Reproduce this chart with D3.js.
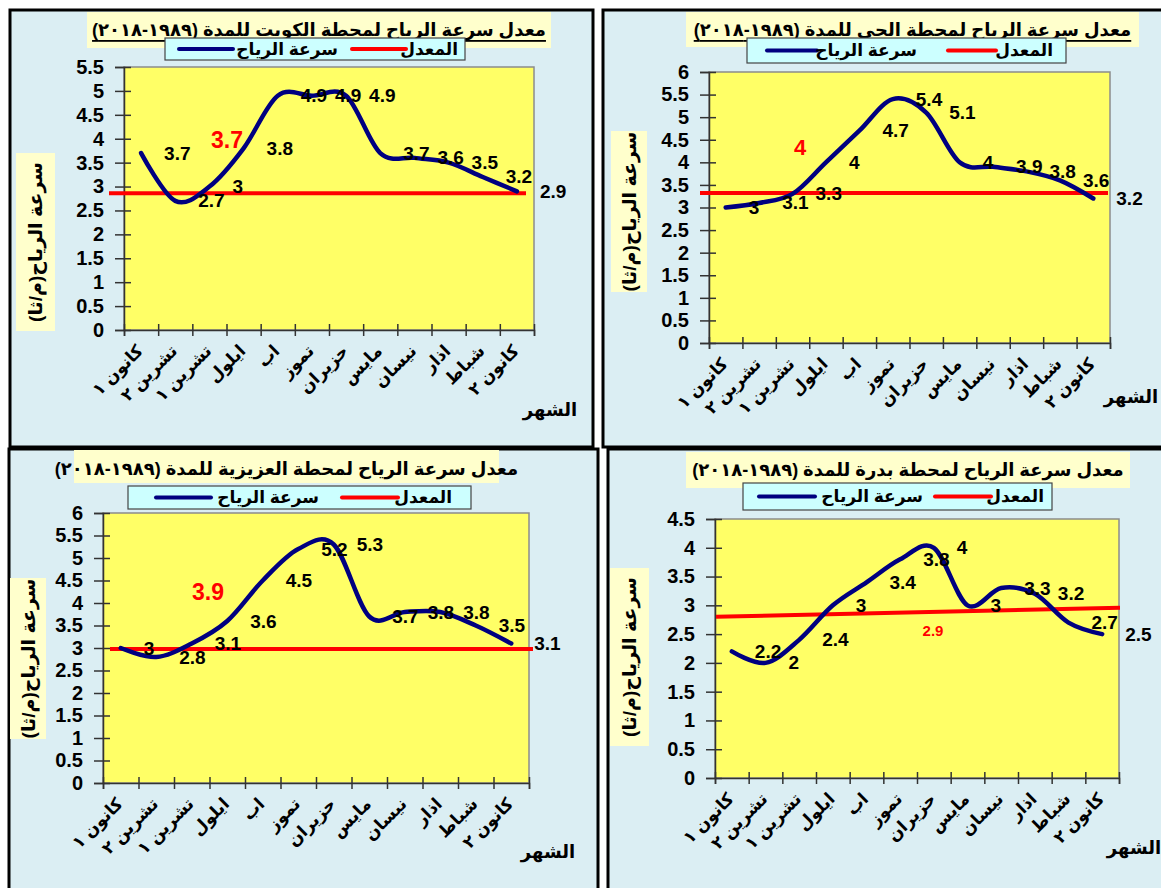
<!DOCTYPE html>
<html><head><meta charset="utf-8">
<script src="https://cdn.jsdelivr.net/npm/d3@7/dist/d3.min.js"></script>
<style>
body{margin:0;background:#fff;}
svg{display:block;font-family:Arial,"Liberation Sans","DejaVu Sans",sans-serif;font-weight:bold;}
</style></head><body>
<svg id="c" width="1161" height="888"></svg>
<script>
// ---------- DATA ----------
const months = ["كانون ١","تشرين ٢","تشرين ١","ايلول","اب","تموز","حزيران","مايس","نيسان","اذار","شباط","كانون ٢"];
const kuwait  = [3.7, 2.7, 3.0, 3.8, 4.9, 4.9, 4.9, 3.7, 3.6, 3.5, 3.2, 2.9];
const hay     = [3.0, 3.1, 3.3, 4.0, 4.7, 5.4, 5.1, 4.0, 3.9, 3.8, 3.6, 3.2];
const aziziya = [3.0, 2.8, 3.1, 3.6, 4.5, 5.2, 5.3, 3.7, 3.8, 3.8, 3.5, 3.1];
const badra   = [2.2, 2.0, 2.4, 3.0, 3.4, 3.8, 4.0, 3.0, 3.3, 3.2, 2.7, 2.5];
// average (red) line: value at start and end
const kuwaitAvg  = [2.86, 2.86];
const hayAvg     = [3.32, 3.32];
const aziziyaAvg = [2.98, 2.98];
const badraAvg   = [2.80, 2.96];
const avgLabels = ["3.7", "4", "3.9", "2.9"];
const yMaxes = [5.5, 6, 6, 4.5];
const titles = [
  "معدل سرعة الرياح لمحطة الكويت  للمدة (١٩٨٩-٢٠١٨)",
  "معدل سرعة الرياح لمحطة الحي  للمدة (١٩٨٩-٢٠١٨)",
  "معدل سرعة الرياح لمحطة العزيزية للمدة (١٩٨٩-٢٠١٨)",
  "معدل سرعة الرياح لمحطة بدرة للمدة (١٩٨٩-٢٠١٨)"
];
const legendNames = ["المعدل", "سرعة الرياح"];
const yTitle = "سرعة الرياح(م/ثا)";
const xTitle = "الشهر";

// ---------- LAYOUT ----------
const layouts = [
  {frame:[10,10,583,437], titleBox:[87,12,464,36], titleY:30, underline:true,
   legend:[165,38,300,22], legRed:[352,406], legBlue:[179,233], legAvgRight:458, legSpeedRight:338,
   plot:[124,534,67,330], yBox:[16,153,39,178], xTitle:[550,410], avgPos:[227,140], avgSize:23,
   redOff:[-15,-8]},
  {frame:[603,10,570,437], titleBox:[686,12,453,35], titleY:30, underline:true,
   legend:[747,38,319,25], legRed:[948,996], legBlue:[767,817], legAvgRight:1053, legSpeedRight:917,
   plot:[709,1110,72,343], yBox:[611,131,36,161], xTitle:[1131,397], avgPos:[800,147], avgSize:22,
   redOff:[-9,-2]},
  {frame:[9,449,589,450], titleBox:[74,450,425,33], titleY:469, underline:false,
   legend:[128,486,343,23], legRed:[342,398], legBlue:[156,211], legAvgRight:452, legSpeedRight:319,
   plot:[103,529,513,783], yBox:[10,578,36,161], xTitle:[548,852], avgPos:[208,592], avgSize:23,
   redOff:[7,4]},
  {frame:[608,449,560,450], titleBox:[686,452,444,36], titleY:470, underline:false,
   legend:[743,483,309,27], legRed:[935,991], legBlue:[759,815], legAvgRight:1044, legSpeedRight:923,
   plot:[715,1119,519,778], yBox:[610,568,39,178], xTitle:[1134,848], avgPos:[933,630], avgSize:15,
   redOff:[1,1]}
];

const series = [kuwait, hay, aziziya, badra];
const avgs = [kuwaitAvg, hayAvg, aziziyaAvg, badraAvg];

const svg = d3.select("#c");
const NAVY = "#000080", RED = "#ff0000";

layouts.forEach((L, k) => {
  const g = svg.append("g");
  const vals = series[k], yMax = yMaxes[k];
  // frame
  g.append("rect").attr("x",L.frame[0]).attr("y",L.frame[1]).attr("width",L.frame[2]).attr("height",L.frame[3])
    .attr("fill","#dbeef3").attr("stroke","#000").attr("stroke-width",3);
  // title
  g.append("rect").attr("x",L.titleBox[0]).attr("y",L.titleBox[1]).attr("width",L.titleBox[2]).attr("height",L.titleBox[3])
    .attr("fill","#ffffcc");
  g.append("text").attr("x",L.titleBox[0]+L.titleBox[2]/2).attr("y",L.titleY)
    .attr("text-anchor","middle").attr("dominant-baseline","central").attr("direction","rtl")
    .attr("font-size",18).attr("text-decoration",L.underline?"underline":null).text(titles[k]);
  // legend
  const lg = L.legend, ly = lg[1]+lg[3]/2;
  g.append("rect").attr("x",lg[0]).attr("y",lg[1]).attr("width",lg[2]).attr("height",lg[3])
    .attr("fill","#ccffff").attr("stroke","#444").attr("stroke-width",1.2);
  g.append("line").attr("x1",L.legRed[0]).attr("x2",L.legRed[1]).attr("y1",ly).attr("y2",ly)
    .attr("stroke",RED).attr("stroke-width",4).attr("stroke-linecap","round");
  g.append("line").attr("x1",L.legBlue[0]).attr("x2",L.legBlue[1]).attr("y1",ly).attr("y2",ly)
    .attr("stroke",NAVY).attr("stroke-width",4).attr("stroke-linecap","round");
  g.append("text").attr("x",L.legAvgRight).attr("y",ly).attr("direction","rtl").attr("text-anchor","start")
    .attr("dominant-baseline","central").attr("font-size",17).text(legendNames[0]);
  g.append("text").attr("x",L.legSpeedRight).attr("y",ly).attr("direction","rtl").attr("text-anchor","start")
    .attr("dominant-baseline","central").attr("font-size",17).text(legendNames[1]);

  // scales
  const [x0,x1,y0,y1] = L.plot;
  const xb = d3.scaleBand().domain(d3.range(months.length)).range([x0,x1]);
  const xl = d3.scaleLinear().domain([0,months.length]).range([x0,x1]);
  const y = d3.scaleLinear().domain([0,yMax]).range([y1,y0]);
  const cx = i => xb(i)+xb.bandwidth()/2;

  // plot area
  g.append("rect").attr("x",x0).attr("y",y0).attr("width",x1-x0).attr("height",y1-y0)
    .attr("fill","#ffff66").attr("stroke","#8c8c8c").attr("stroke-width",1.5);

  // y axis
  const ya = g.append("g").attr("transform",`translate(${x0},0)`)
    .call(d3.axisLeft(y).tickValues(d3.range(0,yMax+1e-9,0.5)).tickSize(9).tickPadding(11).tickFormat(d=>String(d)));
  ya.select(".domain").attr("stroke","#333").attr("stroke-width",1.5);
  ya.selectAll(".tick line").attr("x1",7).attr("stroke","#333").attr("stroke-width",1.5);
  ya.selectAll(".tick text").attr("font-size",20).attr("font-weight","bold").attr("fill","#000")
    .attr("font-family","Arial,'Liberation Sans',sans-serif");

  // x axis (ticks at category boundaries)
  const xa = g.append("g").attr("transform",`translate(0,${y1})`)
    .call(d3.axisBottom(xl).tickValues(d3.range(months.length+1)).tickSize(6).tickFormat(""));
  xa.select(".domain").attr("stroke","#333").attr("stroke-width",1.5);
  xa.selectAll(".tick line").attr("y1",-6).attr("stroke","#333").attr("stroke-width",1.5);

  // category labels
  g.append("g").selectAll("text").data(months).join("text")
    .attr("transform",(d,i)=>`translate(${cx(i)+3},${y1+22}) rotate(-45)`)
    .attr("direction","rtl").attr("text-anchor","start").attr("font-size",17).text(d=>d);

  // axis titles
  const yb = L.yBox;
  g.append("rect").attr("x",yb[0]).attr("y",yb[1]).attr("width",yb[2]).attr("height",yb[3]).attr("fill","#ffffcc");
  g.append("text").attr("transform",`translate(${yb[0]+yb[2]/2},${yb[1]+yb[3]/2}) rotate(-90)`)
    .attr("direction","rtl").attr("text-anchor","middle").attr("dominant-baseline","central")
    .attr("font-size",19).text(yTitle);
  g.append("text").attr("x",L.xTitle[0]).attr("y",L.xTitle[1]).attr("direction","rtl")
    .attr("text-anchor","middle").attr("dominant-baseline","central").attr("font-size",18).text(xTitle);

  // average line
  const av = avgs[k];
  g.append("line").attr("x1",x0+L.redOff[0]).attr("x2",x1+L.redOff[1])
    .attr("y1",y(av[0])).attr("y2",y(av[1])).attr("stroke",RED).attr("stroke-width",4);

  // wind speed line
  const line = d3.line().x((d,i)=>cx(i)).y(d=>y(d)).curve(d3.curveCardinal.tension(0));
  g.append("path").datum(vals).attr("d",line).attr("fill","none").attr("stroke",NAVY)
    .attr("stroke-width",4.5).attr("stroke-linecap","round");

  // data labels
  g.append("g").selectAll("text").data(vals).join("text")
    .attr("x",(d,i)=>cx(i)+23).attr("y",d=>y(d)).attr("dominant-baseline","central")
    .attr("font-size",19).attr("fill","#000").text(d=>String(d));

  // red average label
  g.append("text").attr("x",L.avgPos[0]).attr("y",L.avgPos[1]).attr("text-anchor","middle")
    .attr("dominant-baseline","central").attr("font-size",L.avgSize).attr("fill",RED).text(avgLabels[k]);
});
</script>
</body></html>
